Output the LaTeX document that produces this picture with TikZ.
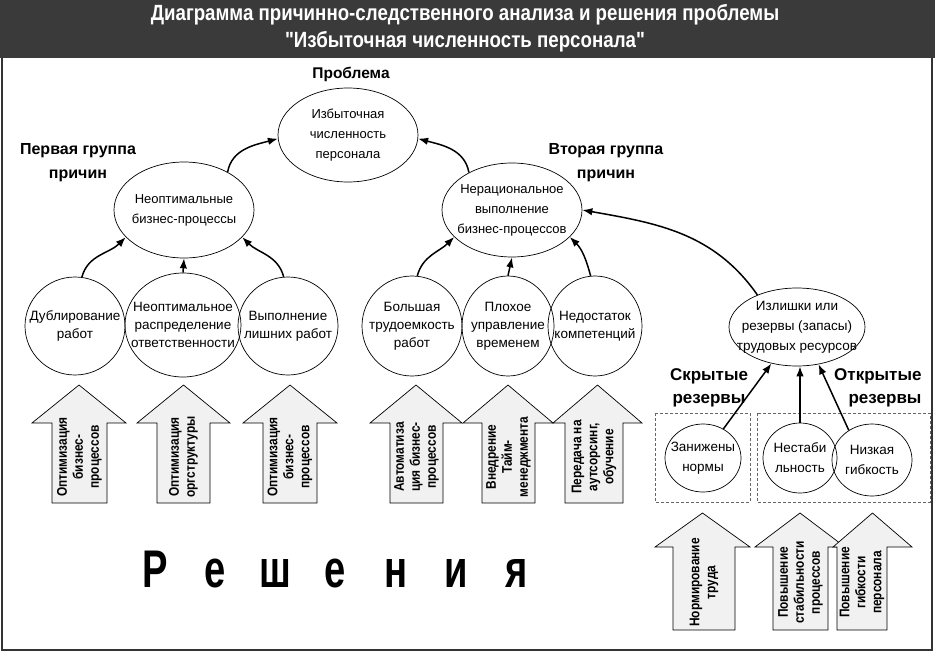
\documentclass[tikz,border=0pt]{standalone}
\usepackage{fontspec}
\setmainfont{Liberation Sans}
\newfontfamily\titlefont{Liberation Sans}[FakeStretch=0.85]
\newfontfamily\bigfont{Liberation Sans}[FakeStretch=0.72]
\usepackage{tikz}
\usetikzlibrary{arrows.meta, positioning, shapes.geometric}
\definecolor{bardark}{HTML}{3A3A3A}
\definecolor{solfill}{HTML}{F1F1F1}

% block arrow: name, head left, head right, shaft left, shaft right, tip y, head base y, bottom y, text
\newcommand{\solution}[9]{%
  \draw[solbody] (#2,#7) -- ({(#2+#3)/2},#6) -- (#3,#7) -- (#5,#7) -- (#5,#8) -- (#4,#8) -- (#4,#7) -- cycle;
  \node[soltext] (#1) at ({(#4+#5)/2},{(#7+#8)/2-6}) {#9};}

\begin{document}
\begin{tikzpicture}[x=1pt, y=-1pt,
  oval/.style={ellipse, draw, line width=0.7pt, inner sep=0pt},
  efftext/.style={align=center, font=\fontsize{13}{20}\selectfont},
  causetext/.style={align=center, font=\fontsize{13.5}{18}\selectfont},
  restext/.style={align=center, font=\fontsize{13.5}{20}\selectfont},
  grouplabel/.style={align=center, font=\bfseries\fontsize{16}{24}\selectfont},
  reslabel/.style={font=\bfseries\fontsize{17}{23}\selectfont},
  link/.style={-{Latex[length=10pt,width=7.5pt]}, line width=1.5pt},
  solbody/.style={draw, line width=0.7pt, fill=solfill},
  soltext/.style={rotate=90, align=center, inner sep=0pt,
    font=\titlefont\bfseries\fontsize{14}{16}\selectfont},
  resbox/.style={draw, densely dashed, line width=0.5pt, black!60},
  bigletter/.style={anchor=base, inner sep=0pt, font=\bigfont\bfseries\fontsize{53}{60}\selectfont},
  titletext/.style={white, font=\titlefont\bfseries\fontsize{22}{26}\selectfont},
]
\useasboundingbox (0,0) rectangle (935,653);

% title bar and frame
\fill[bardark] (0,0) rectangle (935,58);
\node[titletext] (title1) at (465,15) {Диаграмма причинно-следственного анализа и решения проблемы};
\node[titletext] (title2) at (465,42) {"Избыточная численность персонала"};
\draw[line width=1.5pt, black!80] (2,58) -- (2,650) -- (932,650) -- (932,58);

% problem and groups
\node[oval, minimum width=140pt, minimum height=94pt,
  label={[efftext]center:{Избыточная\\численность\\персонала}}] (prob) at (348,135) {};
\node[grouplabel, font=\bfseries\fontsize{15.5}{20}\selectfont] (problabel) at (351,74) {Проблема};
\node[oval, minimum width=140pt, minimum height=96pt,
  label={[efftext]center:{Неоптимальные\\бизнес-процессы}}] (grp1) at (184,210) {};
\node[oval, minimum width=140pt, minimum height=94pt,
  label={[efftext]center:{Нерациональное\\выполнение\\бизнес-процессов}}] (grp2) at (512,210) {};
\node[grouplabel] (grp1label) at (78,163) {Первая группа\\причин};
\node[grouplabel] (grp2label) at (606,163) {Вторая группа\\причин};

% causes
\node[oval, minimum width=100pt, minimum height=98pt,
  label={[causetext]center:{Дублирование\\работ}}] (dup) at (75,326) {};
\node[oval, minimum width=116pt, minimum height=104pt,
  label={[causetext]center:{Неоптимальное\\распределение\\ответственности}}] (resp) at (183,325) {};
\node[oval, minimum width=100pt, minimum height=98pt,
  label={[causetext]center:{Выполнение\\лишних работ}}] (extra) at (288,326) {};
\node[oval, minimum width=100pt, minimum height=100pt,
  label={[causetext]center:{Большая\\трудоемкость\\работ}}] (labor) at (412,326) {};
\node[oval, minimum width=92pt, minimum height=100pt,
  label={[causetext]center:{Плохое\\управление\\временем}}] (time) at (508,326) {};
\node[oval, minimum width=94pt, minimum height=100pt,
  label={[causetext]center:{Недостаток\\компетенций}}] (skill) at (595,326) {};
\node[oval, minimum width=136pt, minimum height=78pt,
  label={[restext]center:{Излишки или\\резервы (запасы)\\трудовых ресурсов}}] (surplus) at (797,327) {};

% reserves
\draw[resbox] (655,413) rectangle (750,502);
\draw[resbox] (757,413) rectangle (930,502);
\node[oval, minimum width=76pt, minimum height=68pt,
  label={[restext]center:{Занижены\\нормы}}] (norms) at (703,458) {};
\node[oval, minimum width=74pt, minimum height=70pt,
  label={[restext]center:{Нестаби\\льность}}] (instab) at (800,458) {};
\node[oval, minimum width=80pt, minimum height=72pt,
  label={[restext]center:{Низкая\\гибкость}}] (rigid) at (872,460) {};
\node[reslabel, align=center] (hidden) at (709,388) {Скрытые\\резервы};
\node[reslabel, align=right, anchor=east] (open) at (925,388) {Открытые\\резервы};

% connectors
\draw[link] (grp1.41) to[out=80, in=195] (prob.183);
\draw[link] (grp2.139) to[out=100, in=-15] (prob.-3);
\draw[link] (dup.82) to[out=75, in=225] (grp1.205);
\draw[link] (resp.north) -- (grp1.south);
\draw[link] (extra.95) to[out=105, in=-45] (grp1.335);
\draw[link] (labor.84) to[out=75, in=225] (grp2.205);
\draw[link] (time.north) -- (grp2.south);
\draw[link] (skill.95) to[out=105, in=-45] (grp2.335);
\draw[link] (surplus.141) to[out=125, in=-10] (grp2.east);
\draw[link] (norms.55) -- (surplus.235);
\draw[link] (instab.north) -- (instab.north |- surplus.south);
\draw[link] (rigid.128) -- (surplus.300);

% solutions
\solution{sol1}{32}{126}{52}{107}{385}{423}{503}{Оптимизация\\бизнес-\\процессов}
\solution{sol2}{137}{230}{157}{210}{385}{423}{503}{Оптимизация\\оргструктуры}
\solution{sol3}{243}{337}{263}{317}{385}{423}{503}{Оптимизация\\бизнес-\\процессов}
\solution{sol4}{370}{462}{390}{443}{385}{423}{503}{Автоматиза\\ция бизнес-\\процессов}
\solution{sol5}{463}{553}{482}{535}{385}{423}{503}{Внедрение\\Тайм-\\менеджмента}
\solution{sol6}{553}{642}{565}{623}{385}{423}{503}{Передача на\\аутсорсинг,\\обучение}
\solution{sol7}{655}{750}{673}{735}{513}{547}{630}{Нормирование\\труда}
\solution{sol8}{755}{845}{773}{828}{513}{547}{630}{Повышение\\стабильности\\процессов}
\solution{sol9}{833}{912}{837}{887}{513}{547}{630}{Повышение\\гибкости\\персонала}

% big caption
\foreach \ch [count=\i] in {Р,е,ш,е,н,и,я}
  \node[bigletter] (cap\i) at ({155+60.2*(\i-1)},587) {\ch};
\end{tikzpicture}
\end{document}
